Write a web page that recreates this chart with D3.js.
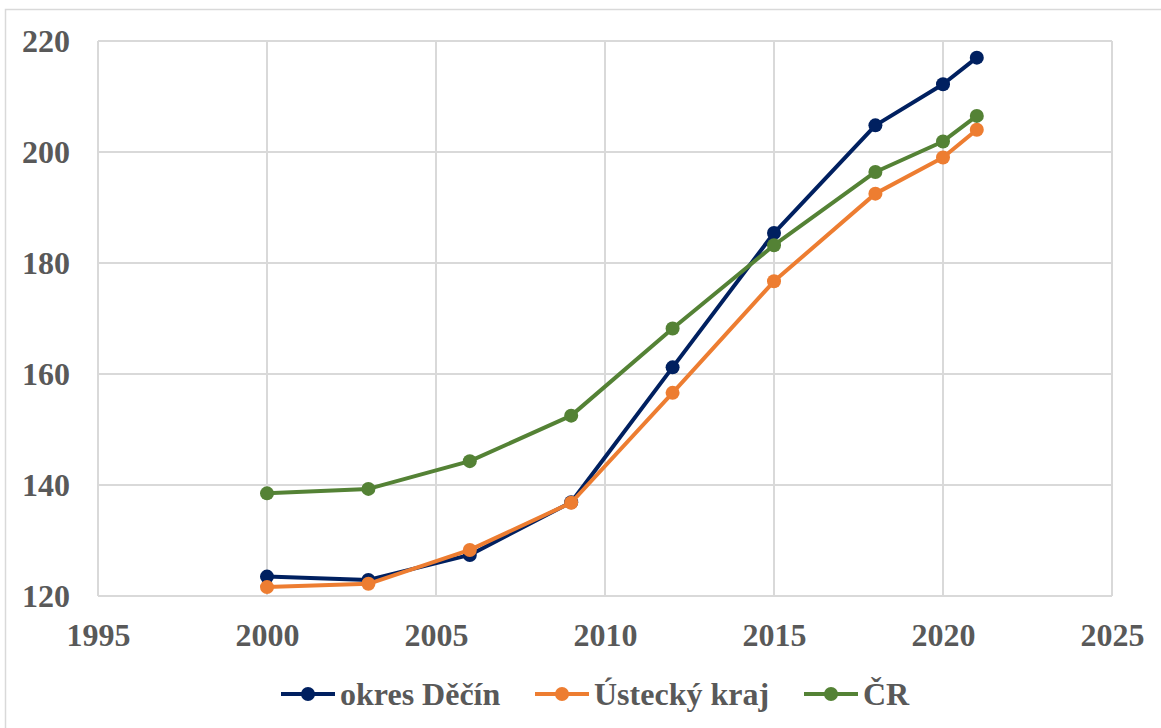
<!DOCTYPE html>
<html><head><meta charset="utf-8">
<script src="https://cdn.jsdelivr.net/npm/d3@7"></script>
<style>body{margin:0;background:#fff}svg{display:block}</style>
</head><body>
<svg id="c" width="1161" height="728"></svg>
<script>
const years = [2000, 2003, 2006, 2009, 2012, 2015, 2018, 2020, 2021];
const decin = [123.5, 122.9, 127.4, 136.9, 161.2, 185.4, 204.8, 212.2, 217.0];
const ustecky = [121.6, 122.2, 128.3, 136.8, 156.6, 176.7, 192.5, 199.0, 204.0];
const cr = [138.5, 139.3, 144.3, 152.5, 168.2, 183.2, 196.4, 201.9, 206.5];
const seriesNames = ["okres Děčín", "Ústecký kraj", "ČR"];
const colors = ["#002060", "#ED7D31", "#548235"];
const xTicks = [1995, 2000, 2005, 2010, 2015, 2020, 2025];
const yTicks = [120, 140, 160, 180, 200, 220];

const svg = d3.select("#c");
const font = "'Liberation Serif','Times New Roman',serif";
svg.append("rect").attr("x",5.5).attr("y",9.5).attr("width",1170).attr("height",740)
  .attr("fill","none").attr("stroke","#d9d9d9").attr("stroke-width",1.5);

const x = d3.scaleLinear().domain([1995,2025]).range([98,1112]);
const y = d3.scaleLinear().domain([120,220]).range([596,41]);

const g = svg.append("g");
g.selectAll(".gx").data(xTicks).join("line")
  .attr("x1",d=>x(d)).attr("x2",d=>x(d)).attr("y1",y(220)).attr("y2",y(120))
  .attr("stroke","#d9d9d9").attr("stroke-width",2);
g.selectAll(".gy").data(yTicks).join("line")
  .attr("x1",x(1995)).attr("x2",x(2025)).attr("y1",d=>y(d)).attr("y2",d=>y(d))
  .attr("stroke","#d9d9d9").attr("stroke-width",2);

const xa = svg.append("g").attr("transform",`translate(0,${y(120)})`)
  .call(d3.axisBottom(x).tickValues(xTicks).tickFormat(d3.format("d")).tickSize(0).tickPadding(27));
xa.select(".domain").remove();
xa.selectAll("text").attr("font-family",font).attr("font-weight","bold").attr("font-size",32).attr("fill","#595959");

const ya = svg.append("g").attr("transform",`translate(${x(1995)},0)`)
  .call(d3.axisLeft(y).tickValues(yTicks).tickSize(0).tickPadding(28));
ya.select(".domain").remove();
ya.selectAll("text").attr("font-family",font).attr("font-weight","bold").attr("font-size",32).attr("fill","#595959");

const data = [decin, ustecky, cr];
const line = d3.line().x((d,i)=>x(years[i])).y(d=>y(d));
data.forEach((s,k)=>{
  svg.append("path").datum(s).attr("d",line).attr("fill","none")
    .attr("stroke",colors[k]).attr("stroke-width",4).attr("stroke-linejoin","round");
  svg.append("g").selectAll("circle").data(s).join("circle")
    .attr("cx",(d,i)=>x(years[i])).attr("cy",d=>y(d)).attr("r",7).attr("fill",colors[k]);
});

const legX = [281, 535, 804];
const leg = svg.append("g");
seriesNames.forEach((n,k)=>{
  const gg = leg.append("g").attr("transform",`translate(${legX[k]},694)`);
  gg.append("line").attr("x1",0).attr("x2",54).attr("y1",0).attr("y2",0)
    .attr("stroke",colors[k]).attr("stroke-width",4);
  gg.append("circle").attr("cx",27).attr("cy",0).attr("r",7).attr("fill",colors[k]);
  gg.append("text").attr("x",59).attr("y",0).attr("dy","0.35em")
    .attr("font-family",font).attr("font-weight","bold").attr("font-size",32).attr("fill","#595959").text(n);
});
</script>
</body></html>
